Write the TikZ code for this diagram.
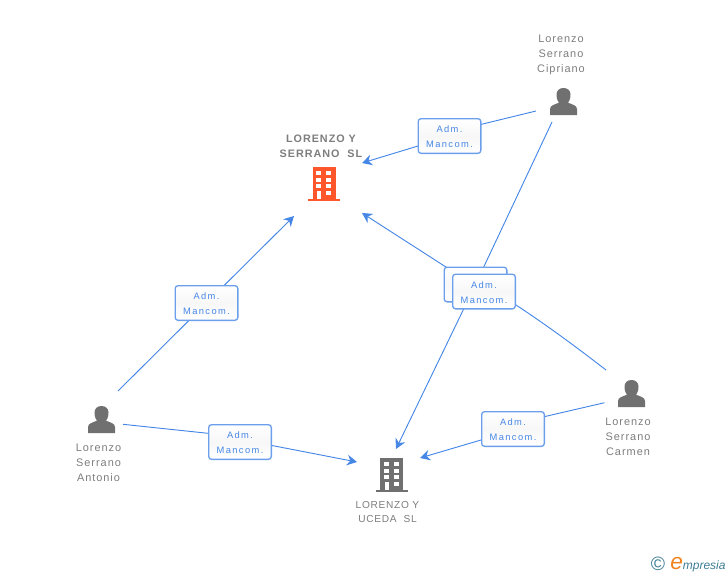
\documentclass[tikz,border=0pt]{standalone}
\usepackage{fontspec}
\setmainfont{Liberation Sans}
\newfontfamily\spaced[LetterSpace=9]{Liberation Sans}
\newfontfamily\spacedtight[LetterSpace=7]{Liberation Sans}
\newfontfamily\badgefont[LetterSpace=15]{Liberation Sans}
\usetikzlibrary{arrows.meta,shadings}
\definecolor{linkblue}{RGB}{70,135,230}
\definecolor{iconGray}{RGB}{112,112,112}
\definecolor{textGray}{RGB}{125,125,125}
\definecolor{iconOrange}{RGB}{255,87,43}
\definecolor{logoTeal}{RGB}{62,124,148}
\definecolor{logoOrange}{RGB}{240,130,30}
\tikzset{
  x=0.75pt,y=-0.75pt,
  link/.style={draw=linkblue,line width=0.7pt},
  linkarrow/.style={link,-{Stealth[length=7.5pt,width=8pt,inset=2.4pt]}},
  badge/.style={draw=linkblue!80!white,line width=1pt,rounded corners=2.2pt,
    top color=white,bottom color=white,middle color=black!3,
    minimum width=47pt,minimum height=26pt,inner sep=0pt,
    text=linkblue,font=\badgefont\fontsize{7}{11.2}\selectfont,align=center},
  lbl/.style={text=textGray,font=\spaced\fontsize{8.2}{11.2}\selectfont,align=center,inner sep=0pt},
  lblcaps/.style={text=textGray,font=\spacedtight\fontsize{7.6}{11.2}\selectfont,align=center,inner sep=0pt},
  lblbold/.style={text=textGray,font=\spaced\bfseries\fontsize{8.1}{11.2}\selectfont,align=center,inner sep=0pt},
  icon/.style={minimum width=20pt,minimum height=20pt,inner sep=0pt},
}
\newcommand{\admtext}{\rule{0pt}{6.5pt}Adm.\\Mancom.}
\newcommand{\personicon}[1]{%
  \begin{scope}[shift={(#1)}]
    \fill[iconGray] (-13.5,13.5) -- (-13.5,7.5) .. controls (-13.5,4) and (-9,3) .. (-4.5,1.2)
      .. controls (-7,-2) and (-7,-5) .. (-7,-7) .. controls (-7,-11) and (-4,-13.5) .. (0,-13.5)
      .. controls (4,-13.5) and (7,-11) .. (7,-7) .. controls (7,-5) and (7,-2) .. (4.5,1.2)
      .. controls (9,3) and (13.5,4) .. (13.5,7.5) -- (13.5,13.5) -- cycle;
  \end{scope}}
\newcommand{\buildingicon}[2]{%
  \begin{scope}[shift={(#1)}]
    \fill[#2] (-11.5,-17) rectangle (11.5,15);
    \fill[#2] (-16,14.7) rectangle (16,17);
    \foreach \yy in {-13,-6.4,0.2}{
      \fill[white] (-8,\yy) rectangle (-3,{\yy+4.2});
      \fill[white] (2,\yy) rectangle (7.2,{\yy+4.2});}
    \fill[white] (-7,6.7) rectangle (-3,15);
    \fill[white] (2,6.7) rectangle (7.2,11);
  \end{scope}}
\begin{document}
\begin{tikzpicture}
\useasboundingbox (0,0) rectangle (728,575);
% entities
\node[icon] (lserrano) at (324,184) {};
\node[icon] (luceda) at (391.5,475) {};
\node[icon] (antonio) at (101.5,419.5) {};
\node[icon] (cipriano) at (563.5,101.5) {};
\node[icon] (carmen) at (631.5,393.5) {};
\buildingicon{324,184}{iconOrange}
\buildingicon{391.5,475}{iconGray}
\personicon{101.5,419.5}
\personicon{563.5,101.5}
\personicon{631.5,393.5}
% labels
\node[lblbold] (tSerrano) at (321,146) {LORENZO Y\\SERRANO\ \ SL};
\node[lblcaps] (tUceda) at (387.5,512) {LORENZO Y\\UCEDA\ \ SL};
\node[lbl] (tAntonio) at (98.5,462.5) {Lorenzo\\Serrano\\Antonio};
\node[lbl] (tCipriano) at (561,55) {Lorenzo\\Serrano\\Cipriano};
\node[lbl] (tCarmen) at (628,436.5) {Lorenzo\\Serrano\\Carmen};
% connector ends
\coordinate (a1) at (118,391);
\coordinate (a2) at (294,216);
\coordinate (b1) at (123,424.3);
\coordinate (bk) at (208,433.3);
\coordinate (bl) at (272,445.5);
\coordinate (b2) at (357,462);
\coordinate (c1) at (536,111);
\coordinate (ck) at (481.5,124.3);
\coordinate (cl) at (418,146);
\coordinate (c2) at (362,163);
\coordinate (d1) at (552,122);
\coordinate (d2) at (396,449);
\coordinate (e1) at (606,370);
\coordinate (ec1) at (575,346);
\coordinate (ec2) at (545,324);
\coordinate (ek) at (516,305);
\coordinate (e2) at (362,213);
\coordinate (f1) at (604.5,402.7);
\coordinate (fk) at (545,416.5);
\coordinate (fl) at (481,440);
\coordinate (f2) at (420,458);
% badge positions
\coordinate (pa) at (206.5,303);
\coordinate (pb) at (240,442);
\coordinate (pc) at (449.5,136);
\coordinate (pd) at (475.5,284.5);
\coordinate (pe) at (484,291.5);
\coordinate (pf) at (513,429);
% connectors
\draw[link] (a1) -- (pa); \draw[linkarrow] (pa) -- (a2);
\draw[link] (b1) -- (bk) -- (pb); \draw[linkarrow] (pb) -- (bl) -- (b2);
\draw[link] (c1) -- (ck) -- (pc); \draw[linkarrow] (pc) -- (cl) -- (c2);
\draw[link] (d1) -- (pd); \draw[linkarrow] (pd) -- (d2);
\draw[link] (e1) .. controls (ec1) and (ec2) .. (ek) -- (pe); \draw[linkarrow] (pe) -- (e2);
\draw[link] (f1) -- (fk) -- (pf); \draw[linkarrow] (pf) -- (fl) -- (f2);
% badges
\node[badge] (ba) at (pa) {\admtext};
\node[badge] (bb) at (pb) {\admtext};
\node[badge] (bc) at (pc) {\admtext};
\node[badge] (bd) at (pd) {};
\node[badge] (be) at (pe) {\admtext};
\node[badge] (bf) at (pf) {\admtext};
% logo
\node[inner sep=0pt,text=logoTeal,font=\fontsize{14.5}{14.5}\selectfont] (copy) at (658,564) {©};
\node[inner sep=0pt,anchor=base west,text=logoTeal,font=\itshape\fontsize{9}{10}\selectfont] (brand) at (670,569)
  {{\color{logoOrange}\fontsize{17}{10}\selectfont e}mpresia};
\end{tikzpicture}
\end{document}
